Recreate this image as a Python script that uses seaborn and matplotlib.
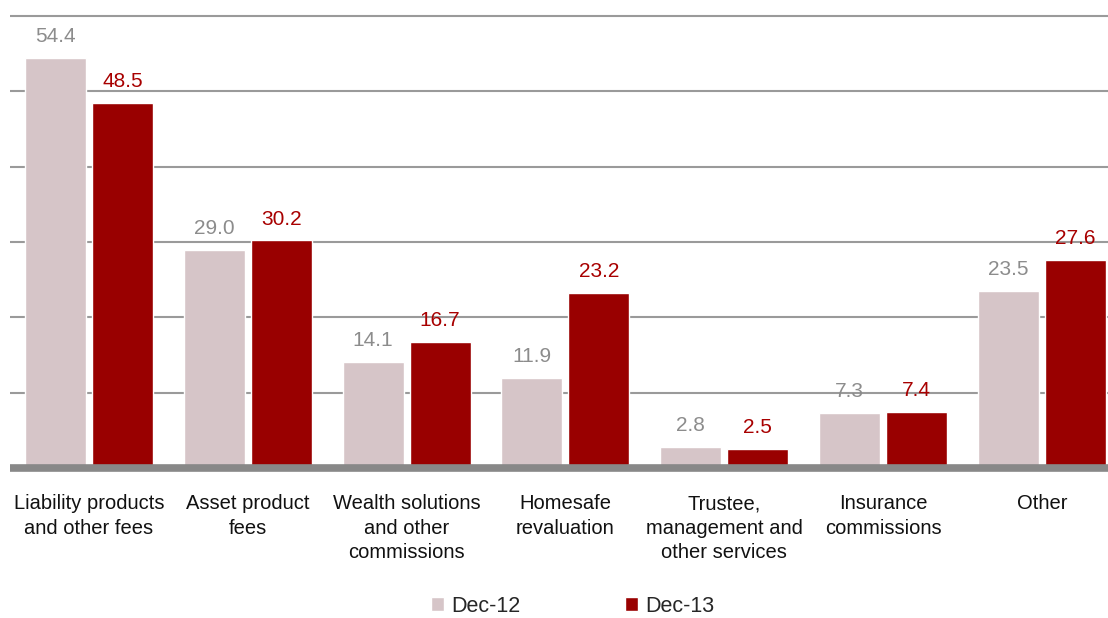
import matplotlib
matplotlib.use("Agg")
import matplotlib.pyplot as plt
import seaborn as sns
import pandas as pd
from matplotlib.patches import Patch

categories = ["Liability products\nand other fees", "Asset product\nfees",
              "Wealth solutions\nand other\ncommissions", "Homesafe\nrevaluation",
              "Trustee,\nmanagement and\nother services", "Insurance\ncommissions", "Other"]
dec12 = [54.4, 29.0, 14.1, 11.9, 2.8, 7.3, 23.5]
dec13 = [48.5, 30.2, 16.7, 23.2, 2.5, 7.4, 27.6]
series = ["Dec-12", "Dec-13"]
colors = {"Dec-12": "#d6c5c8", "Dec-13": "#990000"}
label_colors = {"Dec-12": "#8c8c8c", "Dec-13": "#a80000"}

sns.set_theme(style="white")
plt.rcParams['font.family'] = ['Liberation Sans', 'DejaVu Sans']

df = pd.DataFrame({
    "category": categories * 2,
    "series": [series[0]] * len(categories) + [series[1]] * len(categories),
    "value": dec12 + dec13,
})

fig = plt.figure(figsize=(11.08, 6.18), dpi=100)
ax = fig.add_axes([9.6/1108, 1 - 468/618, 1111.6/1108, (468 - 16)/618])

sns.barplot(data=df, x="category", y="value", hue="series", palette=colors,
            width=0.844, gap=0.09, ax=ax, legend=False, saturation=1, zorder=2)

ax.set_ylim(0, 60)
ax.set_xlim(-0.5, len(categories) - 0.5)
for y in range(10, 61, 10):
    ax.axhline(y, color="#9a9a9a", lw=1.5, zorder=0, clip_on=False,
               solid_capstyle="butt")
ax.axhline(0, color="#888888", lw=5.5, zorder=3, clip_on=False,
           solid_capstyle="butt")

for sp in ax.spines.values():
    sp.set_visible(False)
ax.set_yticks([])
ax.set_xlabel("")
ax.set_ylabel("")
ax.tick_params(axis="x", length=0, pad=19, labelsize=14.5, colors="#111111")
for t in ax.get_xticklabels():
    t.set_linespacing(1.36)
    t.set_verticalalignment("top")

for container, s in zip(ax.containers, series):
    for bar in container:
        h = bar.get_height()
        ax.annotate(f"{h:.1f}", (bar.get_x() + bar.get_width() / 2, h),
                    xytext=(0, 11.5), textcoords="offset points",
                    ha="center", va="baseline", fontsize=15,
                    color=label_colors[s], annotation_clip=False)

handles = [Patch(facecolor=colors[s], label=s) for s in series]
fig.legend(handles=handles, loc="center", bbox_to_anchor=(0.517, 1 - 606/618),
           ncol=2, frameon=False, fontsize=15.5, handlelength=0.6, handleheight=0.6,
           handletextpad=0.35, columnspacing=4.86)

fig.savefig("out.png", dpi=100)
